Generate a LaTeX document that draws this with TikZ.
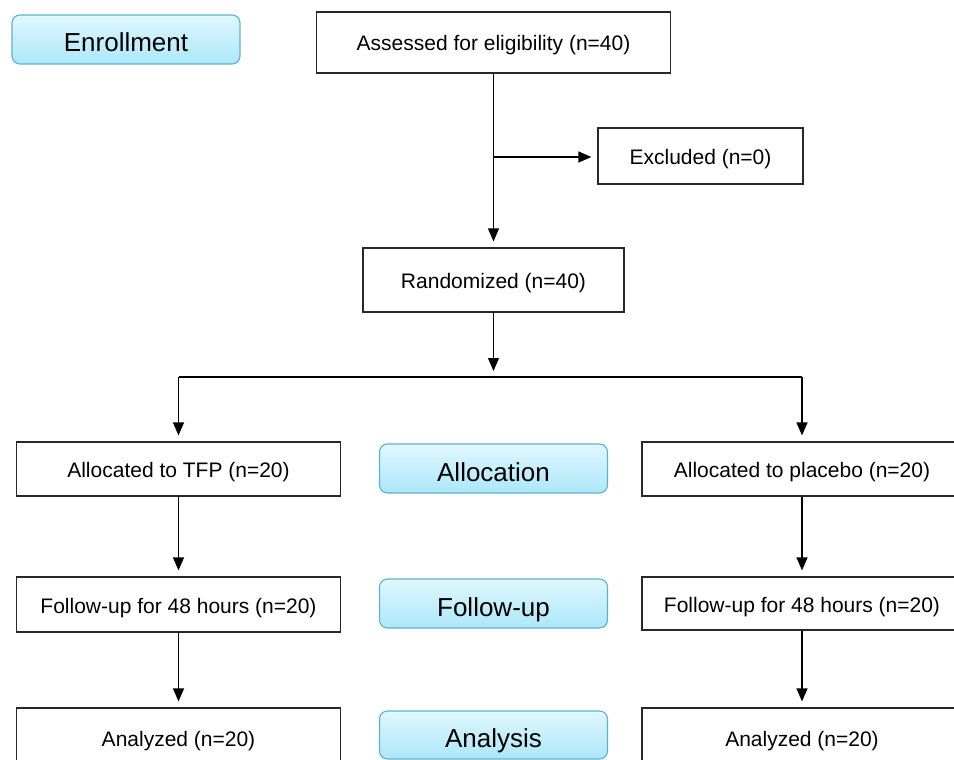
\documentclass[tikz,border=0pt]{standalone}
\usepackage{fontspec}
\setmainfont{Liberation Sans}
\usetikzlibrary{arrows.meta,positioning}
\definecolor{lbtop}{RGB}{224,247,254}
\definecolor{lbbot}{RGB}{172,231,249}
\definecolor{lbedge}{RGB}{92,178,204}
\definecolor{boxedge}{RGB}{40,40,40}
\tikzset{
  flowbox/.style={draw=boxedge, line width=1.2pt, fill=white, inner sep=0pt,
    text height=17pt, text depth=0pt,
    font=\fontsize{21}{25}\selectfont},
  stagebox/.style={draw=lbedge, line width=1.1pt, rounded corners=8pt,
    top color=lbtop, bottom color=lbbot, inner sep=0pt,
    text height=25pt, text depth=0pt,
    minimum width=228pt, minimum height=49pt,
    font=\fontsize{26}{30}\selectfont},
  arr/.style={line width=1.2pt, -{Triangle[length=13pt,width=11pt]}, shorten >=6pt},
  ln/.style={line width=1.2pt}
}
\begin{document}
\begin{tikzpicture}[x=1pt,y=-1pt]
\useasboundingbox (0,0) rectangle (954,760);
\clip (0,0) rectangle (954,760);
\fill[white] (0,0) rectangle (954,760);

% stage labels
\node[stagebox] (enroll) at (126,39.5) {Enrollment};
\node[stagebox] (alloc) at (493.5,468.5) {Allocation};
\node[stagebox] (fulab) at (493.5,603.5) {Follow-up};
\node[stagebox, minimum height=48pt] (anlab) at (493.5,735) {Analysis};

% flow boxes
\node[flowbox, minimum width=354pt, minimum height=61pt] (assess) at (493.5,42.5) {Assessed for eligibility (n=40)};
\node[flowbox, minimum width=205pt, minimum height=56pt] (excl) at (700.5,156) {Excluded (n=0)};
\node[flowbox, minimum width=261pt, minimum height=64pt] (rand) at (493.5,280) {Randomized (n=40)};
\node[flowbox, minimum width=324pt, minimum height=54pt] (tfp) at (178.5,469) {Allocated to TFP (n=20)};
\node[flowbox, minimum width=320pt, minimum height=54pt] (plac) at (802,469) {Allocated to placebo (n=20)};
\node[flowbox, minimum width=324pt, minimum height=55pt] (fu1) at (178.5,604.5) {Follow-up for 48 hours (n=20)};
\node[flowbox, minimum width=320pt, minimum height=53pt] (fu2) at (802,603.5) {Follow-up for 48 hours (n=20)};
\node[flowbox, minimum width=324pt, minimum height=60pt] (an1) at (178.5,738) {Analyzed (n=20)};
\node[flowbox, minimum width=320pt, minimum height=60pt] (an2) at (802,738) {Analyzed (n=20)};

% connectors
\coordinate (branch) at (493.5,157);
\coordinate (split) at (493.5,377);
\draw[arr] (assess.south) -- (rand.north);
\draw[arr] (branch) -- (branch -| excl.west);
\draw[arr] (rand.south) -- (split);
\draw[ln] (tfp.north |- split) -- (plac.north |- split);
\draw[arr] (tfp.north |- split) -- (tfp.north);
\draw[arr] (plac.north |- split) -- (plac.north);
\draw[arr] (tfp.south) -- (fu1.north);
\draw[arr] (plac.south) -- (fu2.north);
\draw[arr] (fu1.south) -- (an1.north);
\draw[arr] (fu2.south) -- (an2.north);
\end{tikzpicture}
\end{document}
